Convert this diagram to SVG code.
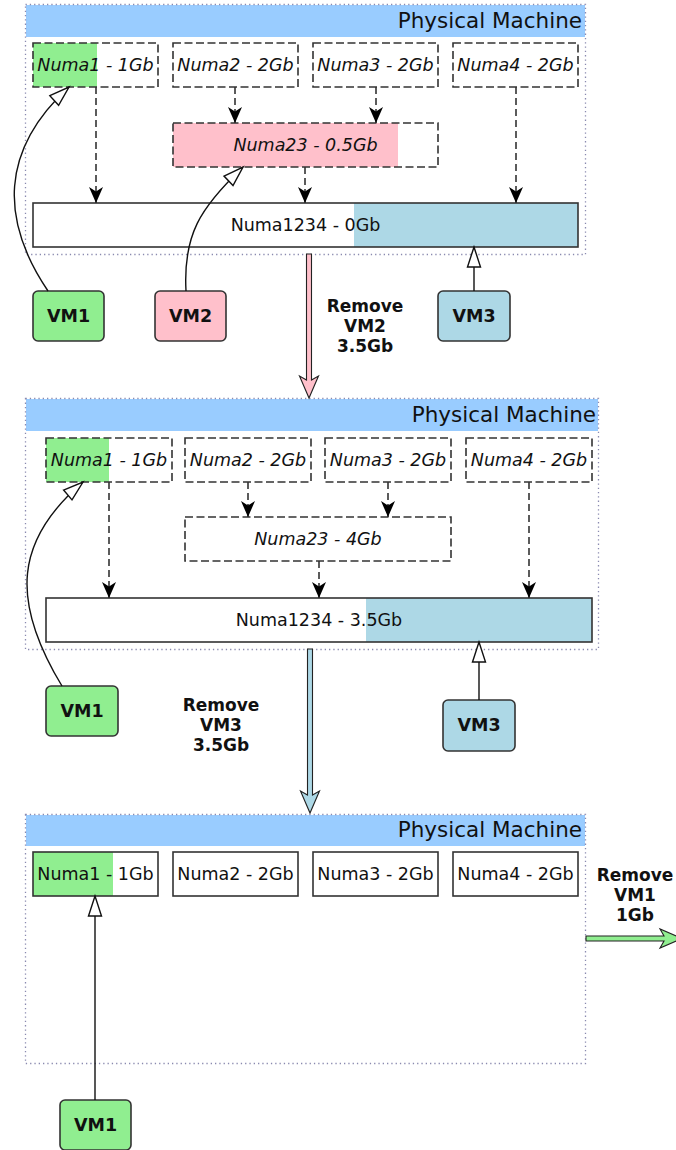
<svg xmlns="http://www.w3.org/2000/svg" width="676" height="1150" viewBox="0 0 676 1150">
<defs>
<style>
.cont{fill:none;stroke:#8a8ab0;stroke-width:1.3;stroke-dasharray:1.3 3}
.hdr{fill:#99ccff}
.htxt{font-family:"DejaVu Sans",sans-serif;font-size:21.5px;fill:#111;text-anchor:end}
.dbox{fill:none;stroke:#333;stroke-width:1.6;stroke-dasharray:8 3.5}
.sbox{fill:none;stroke:#333;stroke-width:1.6}
.it{font-family:"DejaVu Sans",sans-serif;font-style:italic;font-size:17.5px;fill:#111;text-anchor:middle}
.rt{font-family:"DejaVu Sans",sans-serif;font-size:17.5px;fill:#111;text-anchor:middle}
.vm{stroke:#333;stroke-width:1.6}
.vt{font-family:"DejaVu Sans",sans-serif;font-weight:bold;font-size:17.5px;fill:#111;text-anchor:middle}
.lbl{font-family:"DejaVu Sans",sans-serif;font-weight:bold;font-size:17px;fill:#111;text-anchor:middle}
.dl{fill:none;stroke:#333;stroke-width:1.6;stroke-dasharray:7 4;marker-end:url(#fa)}
.vl{fill:none;stroke:#111;stroke-width:1.4;marker-end:url(#ha)}
.tr{stroke:#222;stroke-width:1.1}
</style>
<marker id="fa" markerUnits="userSpaceOnUse" markerWidth="18" markerHeight="16" refX="16" refY="7" orient="auto">
<path d="M0,0 L16,7 L0,14 L4.5,7 Z" fill="#000"/>
</marker>
<marker id="ha" markerUnits="userSpaceOnUse" markerWidth="24" markerHeight="16" refX="21" refY="7.5" orient="auto" overflow="visible">
<path d="M1,1 L21,7.5 L1,14 Z" fill="#fff" stroke="#111" stroke-width="1.4"/>
</marker>
</defs>

<!-- Panel 1 -->
<g id="pm1">
<rect class="hdr" x="26" y="5" width="559" height="32"/>
<rect class="cont" x="25.5" y="4.5" width="560" height="250"/>
<text class="htxt" x="582" y="28">Physical Machine</text>
</g>
<g id="p1-numa1"><rect x="33" y="43" width="64" height="44" fill="#90ee90"/><rect class="dbox" x="33" y="43" width="125" height="44"/><text class="it" x="95.5" y="71">Numa1 - 1Gb</text></g>
<g id="p1-numa2"><rect class="dbox" x="173" y="43" width="125" height="44"/><text class="it" x="235.5" y="71">Numa2 - 2Gb</text></g>
<g id="p1-numa3"><rect class="dbox" x="313" y="43" width="125" height="44"/><text class="it" x="375.5" y="71">Numa3 - 2Gb</text></g>
<g id="p1-numa4"><rect class="dbox" x="453" y="43" width="125" height="44"/><text class="it" x="515.5" y="71">Numa4 - 2Gb</text></g>
<g id="p1-numa23"><rect x="173" y="123" width="225" height="44" fill="#ffc0cb"/><rect class="dbox" x="173" y="123" width="265" height="44"/><text class="it" x="305.5" y="151">Numa23 - 0.5Gb</text></g>
<g id="p1-numa1234"><rect x="354" y="203" width="224" height="44" fill="#add8e6"/><rect class="sbox" x="33" y="203" width="545" height="44"/><text class="rt" x="305.5" y="231">Numa1234 - 0Gb</text></g>
<g id="p1-vm1"><rect class="vm" x="33" y="291" width="71" height="50" rx="5" fill="#90ee90"/><text class="vt" x="68.5" y="322">VM1</text></g>
<g id="p1-vm2"><rect class="vm" x="155" y="291" width="71" height="50" rx="5" fill="#ffc0cb"/><text class="vt" x="190.5" y="322">VM2</text></g>
<g id="p1-vm3"><rect class="vm" x="438" y="291" width="72" height="50" rx="5" fill="#add8e6"/><text class="vt" x="474" y="322">VM3</text></g>

<!-- Panel 2 -->
<g id="pm2">
<rect class="hdr" x="26" y="399" width="572" height="32"/>
<rect class="cont" x="25.5" y="398.5" width="573" height="251"/>
<text class="htxt" x="596" y="422">Physical Machine</text>
</g>
<g id="p2-numa1"><rect x="46" y="438" width="63" height="44" fill="#90ee90"/><rect class="dbox" x="46" y="438" width="126" height="44"/><text class="it" x="109" y="466">Numa1 - 1Gb</text></g>
<g id="p2-numa2"><rect class="dbox" x="185" y="438" width="126" height="44"/><text class="it" x="248" y="466">Numa2 - 2Gb</text></g>
<g id="p2-numa3"><rect class="dbox" x="325" y="438" width="126" height="44"/><text class="it" x="388" y="466">Numa3 - 2Gb</text></g>
<g id="p2-numa4"><rect class="dbox" x="466" y="438" width="126" height="44"/><text class="it" x="529" y="466">Numa4 - 2Gb</text></g>
<g id="p2-numa23"><rect class="dbox" x="185" y="517" width="266" height="44"/><text class="it" x="318" y="545">Numa23 - 4Gb</text></g>
<g id="p2-numa1234"><rect x="366" y="598" width="226" height="44" fill="#add8e6"/><rect class="sbox" x="46" y="598" width="546" height="44"/><text class="rt" x="319" y="626">Numa1234 - 3.5Gb</text></g>
<g id="p2-vm1"><rect class="vm" x="46" y="686" width="72" height="50" rx="5" fill="#90ee90"/><text class="vt" x="82" y="717">VM1</text></g>
<g id="p2-vm3"><rect class="vm" x="443" y="700" width="72" height="51" rx="5" fill="#add8e6"/><text class="vt" x="479" y="731">VM3</text></g>

<!-- Panel 3 -->
<g id="pm3">
<rect class="hdr" x="26" y="815" width="559" height="31"/>
<rect class="cont" x="25.5" y="814.5" width="560" height="249"/>
<text class="htxt" x="582" y="837">Physical Machine</text>
</g>
<g id="p3-numa1"><rect x="33" y="852" width="80" height="44" fill="#90ee90"/><rect class="sbox" x="33" y="852" width="125" height="44"/><text class="rt" x="95.5" y="880">Numa1 - 1Gb</text></g>
<g id="p3-numa2"><rect class="sbox" x="173" y="852" width="125" height="44"/><text class="rt" x="235.5" y="880">Numa2 - 2Gb</text></g>
<g id="p3-numa3"><rect class="sbox" x="313" y="852" width="125" height="44"/><text class="rt" x="375.5" y="880">Numa3 - 2Gb</text></g>
<g id="p3-numa4"><rect class="sbox" x="453" y="852" width="125" height="44"/><text class="rt" x="515.5" y="880">Numa4 - 2Gb</text></g>
<g id="p3-vm1"><rect class="vm" x="60" y="1100" width="71" height="50" rx="5" fill="#90ee90"/><text class="vt" x="95.5" y="1131">VM1</text></g>

<!-- Connectors -->
<g id="connectors">
<path class="dl" d="M96,87 L96,203"/>
<path class="dl" d="M235,87 L235,123"/>
<path class="dl" d="M376,87 L376,123"/>
<path class="dl" d="M305,167 L305,203"/>
<path class="dl" d="M516,87 L516,203"/>
<path class="vl" d="M48,291 C0,220 0,150 69,87"/>
<path class="vl" d="M186,291 C183,235 200,208 243,167"/>
<path class="vl" d="M474,291 L474,247"/>

<path class="dl" d="M109,482 L109,598"/>
<path class="dl" d="M248,482 L248,517"/>
<path class="dl" d="M388,482 L388,517"/>
<path class="dl" d="M319,561 L319,598"/>
<path class="dl" d="M529,482 L529,598"/>
<path class="vl" d="M62,686 C10,600 15,540 83,482"/>
<path class="vl" d="M479,700 L479,642"/>

<path class="vl" d="M95,1100 L95,896"/>

<path class="tr" fill="#ffc0cb" d="M306.5,254 L311.5,254 L311.5,380 L318.5,376 L309,398 L299.5,376 L306.5,380 Z"/>
<path class="tr" fill="#add8e6" d="M307.5,649 L312.5,649 L312.5,795 L319.5,791 L310,813 L300.5,791 L307.5,795 Z"/>
<path class="tr" fill="#90ee90" d="M586,936 L664,936 L660,929 L682,938.5 L660,948 L664,941 L586,941 Z"/>
</g>

<g id="labels">
<text class="lbl" x="365" y="312">Remove</text>
<text class="lbl" x="365" y="332">VM2</text>
<text class="lbl" x="365" y="352">3.5Gb</text>
<text class="lbl" x="221" y="711">Remove</text>
<text class="lbl" x="221" y="731">VM3</text>
<text class="lbl" x="221" y="751">3.5Gb</text>
<text class="lbl" x="635" y="881">Remove</text>
<text class="lbl" x="635" y="901">VM1</text>
<text class="lbl" x="635" y="921">1Gb</text>
</g>
</svg>
